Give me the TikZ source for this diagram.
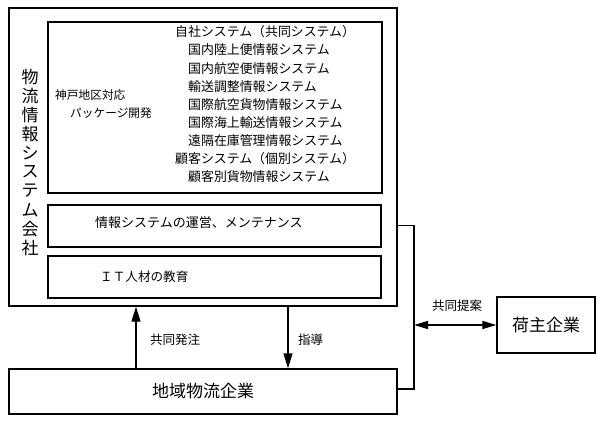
\documentclass[tikz,border=0pt]{standalone}
\usepackage{fontspec}
\setmainfont{Noto Sans CJK JP}
\usetikzlibrary{arrows.meta}
\tikzset{
  box/.style={draw, line width=1.4pt, inner sep=0pt},
  ibox/.style={draw, line width=1.2pt, inner sep=0pt},
  txt/.style={inner sep=0pt, font=\fontsize{12.5}{14}\selectfont},
  listtxt/.style={inner sep=0pt, font=\fontsize{12.9}{14}\selectfont},
  big/.style={inner sep=0pt, font=\fontsize{17}{20}\selectfont},
  arr/.style={line width=1.4pt, -{Triangle[length=15pt,width=9pt]}},
  darr/.style={line width=1.4pt, {Triangle[length=14pt,width=8pt]}-{Triangle[length=14pt,width=8pt]}},
  conn/.style={line width=1.4pt}
}
\begin{document}
\begin{tikzpicture}[x=1pt,y=-1pt]
\useasboundingbox (0,0) rectangle (600,425);
% boxes
\node[box, minimum width=388pt, minimum height=298pt] (outer) at (203,157) {};
\node[ibox, minimum width=334pt, minimum height=171pt] (b1) at (215,107.5) {};
\node[ibox, minimum width=333pt, minimum height=42pt] (b2) at (214.5,226) {};
\node[ibox, minimum width=333pt, minimum height=42pt] (b3) at (214.5,277) {};
\node[box, minimum width=388pt, minimum height=45pt] (local) at (203,391.5) {};
\node[box, minimum width=98pt, minimum height=56pt] (shipper) at (546,325) {};
% vertical title
\foreach \c [count=\i] in {物,流,情,報,シ,ス,テ,ム,会,社}
  \node[big] (v\i) at (30,{77+19*(\i-1)}) {\c};
% box 1 texts
\node[txt, anchor=west, font=\fontsize{11.7}{14}\selectfont] (kobe) at (55,95) {神戸地区対応};
\node[txt, anchor=west, font=\fontsize{11.7}{14}\selectfont] (pkg) at (70,113) {パッケージ開発};
\foreach \x/\t [count=\i] in {175/自社システム（共同システム）,188/国内陸上便情報システム,188/国内航空便情報システム,188/輸送調整情報システム,188/国際航空貨物情報システム,188/国際海上輸送情報システム,188/遠隔在庫管理情報システム,175/顧客システム（個別システム）,188/顧客別貨物情報システム}
  \node[listtxt, anchor=west] (s\i) at (\x,{32+18.1*(\i-1)}) {\t};
% box 2, 3 texts
\node[txt, anchor=west, font=\fontsize{13}{14}\selectfont] (ops) at (95,223) {情報システムの運営、メンテナンス};
\node[txt, anchor=west, font=\fontsize{12.6}{14}\selectfont] (it) at (100,277) {ＩＴ人材の教育};
% big labels
\node[big] at (local.center) (localt) {地域物流企業};
\node[big] at (shipper.center) (shippert) {荷主企業};
% arrows
\coordinate (ux) at (136,0);
\coordinate (dx) at (288,0);
\draw[arr] (local.north -| ux) -- (outer.south -| ux);
\draw[arr] (outer.south -| dx) -- (local.north -| dx);
\node[txt, anchor=west] (order) at (150,340) {共同発注};
\node[txt, anchor=west] (guide) at (298,340) {指導};
% bracket connector
\coordinate (bt) at (414,225.5);
\coordinate (bb) at (414,389);
\coordinate (bm) at (414,325);
\draw[conn] (outer.east |- bt) -- (bt) -- (bb) -- (local.east |- bb);
\draw[darr] (bm) -- (shipper.west |- bm);
\node[txt, font=\fontsize{12.5}{14}\selectfont] (prop) at (457,306) {共同提案};
\end{tikzpicture}
\end{document}
